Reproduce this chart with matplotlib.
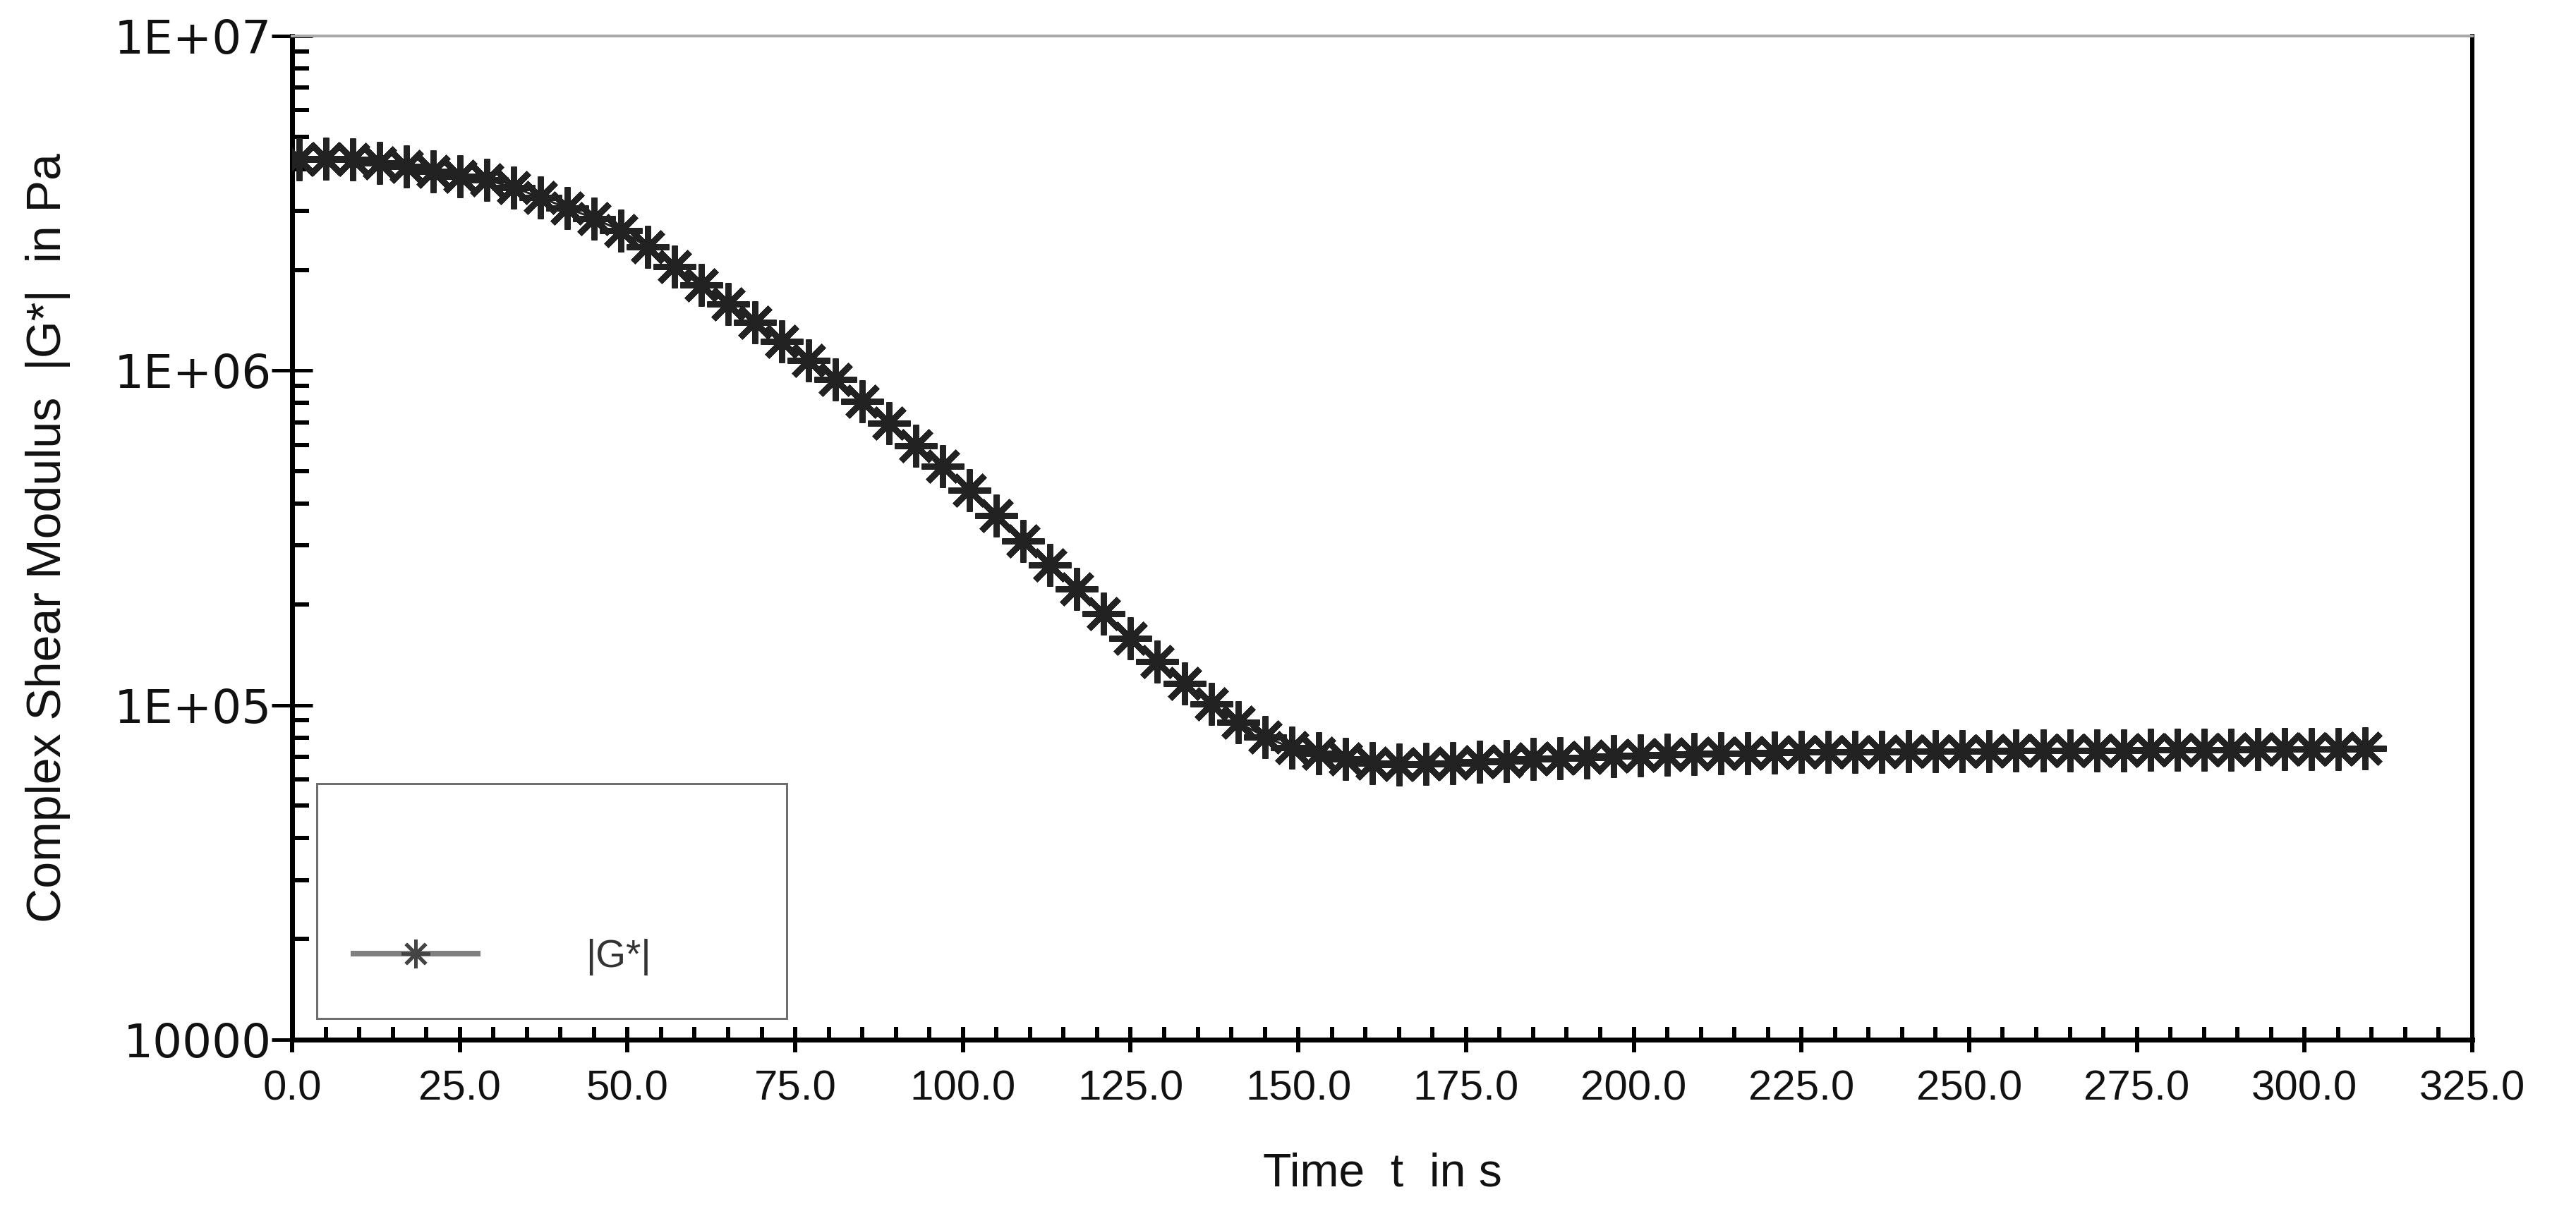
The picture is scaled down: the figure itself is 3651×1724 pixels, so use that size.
import numpy as np
import matplotlib
matplotlib.use("Agg")
import matplotlib.pyplot as plt
from matplotlib.ticker import MultipleLocator, LogLocator, FixedLocator, FixedFormatter, NullFormatter
from matplotlib.lines import Line2D
from matplotlib.patches import Rectangle

# ---- data ----
time_s = [1, 5, 9, 13, 17, 21, 25, 29, 33, 37, 41, 45, 49, 53, 57, 61, 65, 69, 73, 77,
          81, 85, 89, 93, 97, 101, 105, 109, 113, 117, 121, 125, 129, 133, 137, 141, 145, 149, 153, 157,
          161, 165, 169, 173, 177, 181, 185, 189, 193, 197, 201, 205, 209, 213, 217, 221, 225, 229, 233, 237,
          241, 245, 249, 253, 257, 261, 265, 269, 273, 277, 281, 285, 289, 293, 297, 301, 305, 309]
g_star_pa = [4.27e6, 4.29e6, 4.27e6, 4.18e6, 4.07e6, 3.94e6, 3.80e6, 3.71e6, 3.53e6, 3.29e6,
             3.06e6, 2.85e6, 2.62e6, 2.34e6, 2.04e6, 1.80e6, 1.58e6, 1.39e6, 1.22e6, 1.07e6,
             9.4e5, 8.1e5, 6.95e5, 5.96e5, 5.18e5, 4.39e5, 3.69e5, 3.10e5, 2.62e5, 2.22e5,
             1.88e5, 1.58e5, 1.35e5, 1.16e5, 1.01e5, 8.9e4, 8.04e4, 7.45e4, 7.16e4, 6.89e4,
             6.71e4, 6.65e4, 6.67e4, 6.71e4, 6.76e4, 6.82e4, 6.89e4, 6.93e4, 6.98e4, 7.03e4,
             7.06e4, 7.10e4, 7.13e4, 7.16e4, 7.19e4, 7.21e4, 7.23e4, 7.24e4, 7.25e4, 7.26e4,
             7.27e4, 7.28e4, 7.28e4, 7.29e4, 7.30e4, 7.31e4, 7.31e4, 7.32e4, 7.33e4, 7.34e4,
             7.34e4, 7.36e4, 7.36e4, 7.38e4, 7.38e4, 7.40e4, 7.40e4, 7.41e4]
x_ticks = [0, 25, 50, 75, 100, 125, 150, 175, 200, 225, 250, 275, 300, 325]
x_tick_labels = ["0.0", "25.0", "50.0", "75.0", "100.0", "125.0", "150.0", "175.0",
                 "200.0", "225.0", "250.0", "275.0", "300.0", "325.0"]
y_ticks = [1e4, 1e5, 1e6, 1e7]
y_tick_labels = ["10000", "1E+05", "1E+06", "1E+07"]
series_label = "|G*|"

DPI = 72
W, H = 3651, 1724
fig = plt.figure(figsize=(W / DPI, H / DPI), dpi=DPI, facecolor="white")
L, R, T, B = 414, 3504, 51, 1474
ax = fig.add_axes([L / W, 1 - B / H, (R - L) / W, (B - T) / H])

star = (8, 2, 0)
ax.plot(time_s, g_star_pa, color="#222222", lw=3, marker=star, markersize=60,
        markeredgewidth=8.5, markeredgecolor="#222222", markerfacecolor="#222222", zorder=3)

ax.set_yscale("log")
ax.set_xlim(0, 325)
ax.set_ylim(1e4, 1e7)

# spines
for s in ["left", "bottom"]:
    ax.spines[s].set_linewidth(7)
    ax.spines[s].set_color("black")
ax.spines["right"].set_linewidth(6)
ax.spines["right"].set_color("black")
ax.spines["top"].set_linewidth(4)
ax.spines["top"].set_color("#a8a8a8")

# ticks
ax.xaxis.set_major_locator(FixedLocator(x_ticks))
ax.xaxis.set_major_formatter(FixedFormatter(x_tick_labels))
ax.xaxis.set_minor_locator(MultipleLocator(5))
ax.yaxis.set_major_locator(FixedLocator(y_ticks))
ax.yaxis.set_major_formatter(FixedFormatter(y_tick_labels))
ax.yaxis.set_minor_locator(LogLocator(base=10, subs=np.arange(2, 10)))
ax.yaxis.set_minor_formatter(NullFormatter())

ax.tick_params(axis="x", which="major", direction="inout", length=36, width=6, pad=24,
               labelsize=60, colors="black", top=False)
ax.tick_params(axis="x", which="minor", direction="in", length=18, width=6, top=False)
ax.tick_params(axis="y", which="major", direction="inout", length=58, width=5, pad=0,
               labelsize=66, right=False)
ax.tick_params(axis="y", which="minor", direction="in", length=24, width=6, right=False)
for lab in ax.get_xticklabels():
    lab.set_fontfamily("Liberation Sans")
    lab.set_color("#111111")
for lab in ax.get_yticklabels():
    lab.set_fontfamily("DejaVu Sans")
    lab.set_color("#111111")

ax.set_xlabel("Time  t  in s", fontsize=66, family="Liberation Sans", color="#111111", labelpad=62)
ax.set_ylabel("Complex Shear Modulus  |G*|  in Pa", fontsize=68, family="Liberation Sans",
              color="#111111", labelpad=62)

# legend box and entry
box = Rectangle((0.0113, 0.0211), 0.2155, 0.234, transform=ax.transAxes,
                facecolor="white", edgecolor="#6e6e6e", lw=3, zorder=4)
ax.add_patch(box)
handle = Line2D([], [], color="#808080", lw=8, marker=star, markersize=40,
                markeredgewidth=5, markeredgecolor="#444444", markerfacecolor="#444444")
leg = ax.legend([handle], [series_label], loc="center left", bbox_to_anchor=(0.028, 0.0822),
                frameon=False, handlelength=3.2, handletextpad=2.8,
                borderpad=0, borderaxespad=0, prop={"family": "Liberation Sans", "size": 55})
leg.set_zorder(5)
for t in leg.get_texts():
    t.set_color("#333333")

fig.savefig("out.png", dpi=DPI, facecolor="white")
